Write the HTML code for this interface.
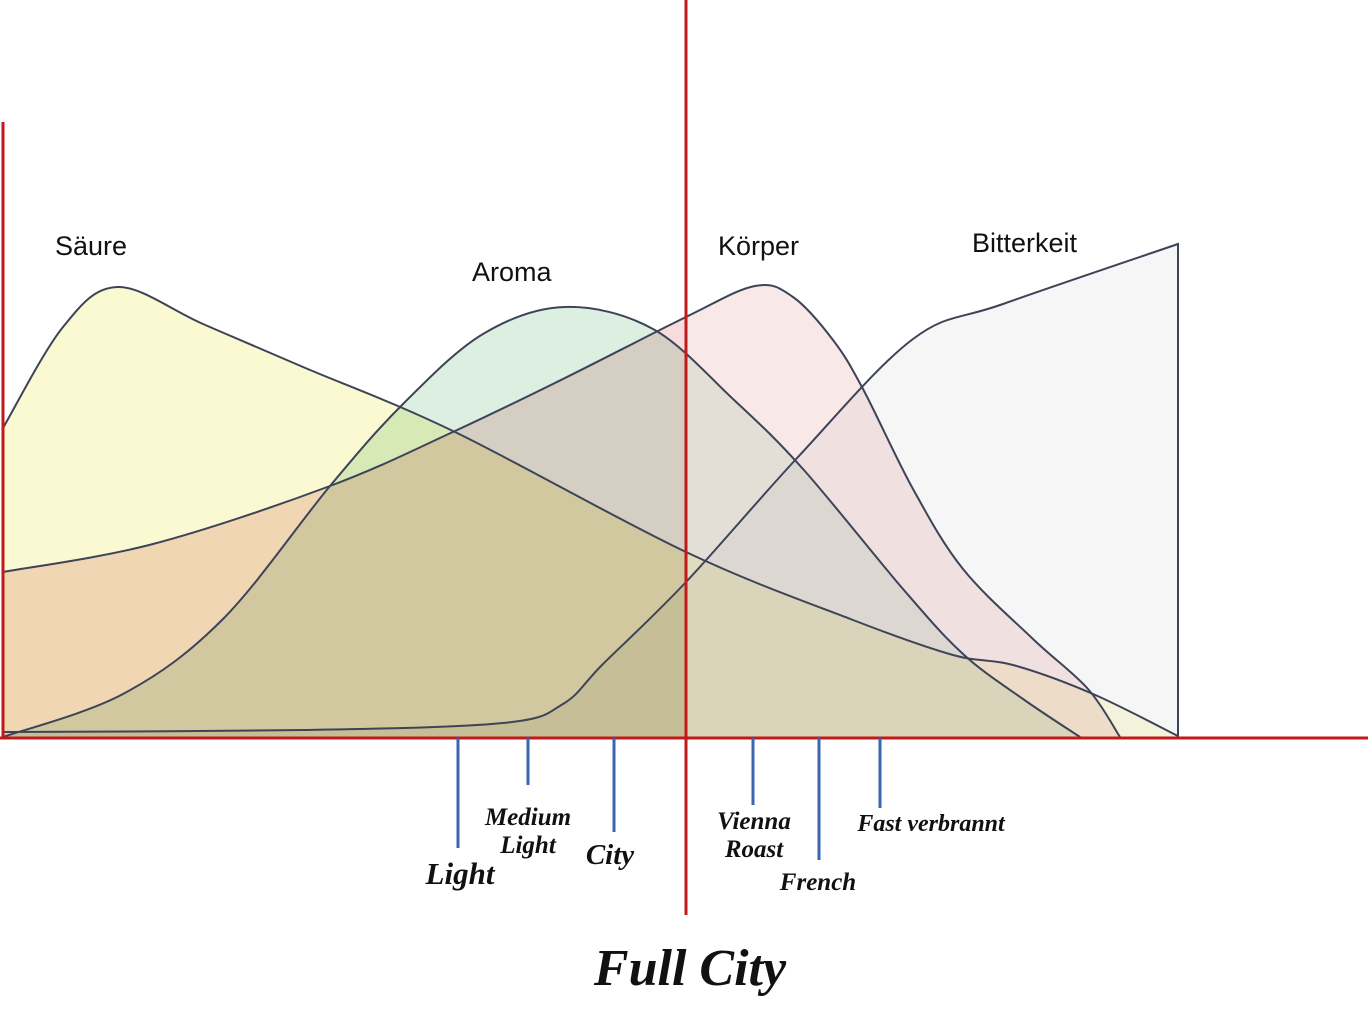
<!DOCTYPE html>
<html><head><meta charset="utf-8"><style>
html,body{margin:0;padding:0;background:#fff;width:1368px;height:1027px;overflow:hidden}
svg{display:block}
.lbl{font-family:"Liberation Sans",sans-serif;font-size:27px;fill:#111}
.scr{font-family:"Liberation Serif",serif;font-style:italic;font-weight:bold;fill:#111;text-anchor:middle}
.crv{mix-blend-mode:multiply;fill-opacity:0.78}
</style></head><body>
<svg id="chart" width="1368" height="1027" viewBox="0 0 1368 1027" xmlns="http://www.w3.org/2000/svg">
<g id="curves"></g>
<rect x="687" y="0" width="681" height="737" fill="#fff" opacity="0.35"/>
<g id="outlines"></g>
<line x1="3" y1="122" x2="3" y2="739" stroke="#c01a1a" stroke-width="3"/>
<line x1="0" y1="738" x2="1368" y2="738" stroke="#c01a1a" stroke-width="3"/>
<line x1="686" y1="0" x2="686" y2="915" stroke="#c01a1a" stroke-width="3"/>
<g id="ticks"></g>
<text class="lbl" x="55" y="255">Säure</text>
<text class="lbl" x="472" y="281">Aroma</text>
<text class="lbl" x="718" y="255">Körper</text>
<text class="lbl" x="972" y="252">Bitterkeit</text>
<text class="scr" x="460" y="884" font-size="31">Light</text>
<text class="scr" x="528" y="825" font-size="25">Medium</text>
<text class="scr" x="528" y="853" font-size="25">Light</text>
<text class="scr" x="610" y="864" font-size="29">City</text>
<text class="scr" x="754" y="829" font-size="25">Vienna</text>
<text class="scr" x="754" y="857" font-size="25">Roast</text>
<text class="scr" x="818" y="890" font-size="25">French</text>
<text class="scr" x="931" y="831" font-size="24">Fast verbrannt</text>
<text class="scr" x="690" y="985" font-size="52">Full City</text>
</svg>
<script>
// x: roast degree in px-units from origin, y: intensity (0-100)
const saeureX = [0, 60, 115, 200, 300, 452, 683, 850, 950, 1010, 1090, 1175];
const saeureY = [61.8, 82, 90, 82.6, 74, 61, 37, 23.4, 16.4, 14.4, 8.6, 0.2];
const koerperX = [0, 150, 327, 452, 560, 683, 752, 790, 830, 860, 910, 960, 1030, 1085, 1117];
const koerperY = [33, 38.6, 50.2, 61.2, 71.6, 84, 90.2, 88, 79.4, 69.6, 49.6, 33.6, 19.6, 9.6, 0];
const aromaX = [0, 120, 220, 327, 400, 480, 562, 650, 730, 800, 900, 960, 1020, 1077];
const aromaY = [0, 8.6, 23.6, 50.2, 66.6, 80.6, 86, 81.6, 67.6, 53.6, 29.6, 16.6, 7.6, 0];
const bitterX = [0, 300, 500, 560, 600, 683, 795, 910, 1000, 1175];
const bitterY = [1, 1.4, 2.8, 6.6, 14.6, 31, 56, 79.6, 86.6, 98.6];
const tickX = [455, 525, 611, 750, 816, 877];
const tickLen = [110, 47, 94, 67, 122, 70];

const X0 = 3, Y0 = 737, YS = 5;
const xs = v => X0 + v;
const ys = v => Y0 - v * YS;
const NS = "http://www.w3.org/2000/svg";

function smooth(px, py) {
  const p = px.map((x, i) => [xs(x), ys(py[i])]);
  let d = "M" + p[0][0] + "," + p[0][1];
  for (let i = 0; i < p.length - 1; i++) {
    const a = p[i - 1] || p[i], b = p[i], c = p[i + 1], e = p[i + 2] || c;
    const c1 = [b[0] + (c[0] - a[0]) / 6, b[1] + (c[1] - a[1]) / 6];
    const c2 = [c[0] - (e[0] - b[0]) / 6, c[1] - (e[1] - b[1]) / 6];
    d += " C" + c1.join(",") + " " + c2.join(",") + " " + c.join(",");
  }
  return d;
}
const series = [
  ["saeure", saeureX, saeureY, "#f9f7c4"],
  ["koerper", koerperX, koerperY, "#f3d2d2"],
  ["aroma", aromaX, aromaY, "#d4ead8"],
  ["bitterkeit", bitterX, bitterY, "#eeeeee"]
];
const cg = document.getElementById("curves"), og = document.getElementById("outlines");
series.forEach(s => {
  const line = smooth(s[1], s[2]);
  const lastX = xs(s[1][s[1].length - 1]);
  const area = line + " L" + lastX + "," + Y0 + " L" + xs(s[1][0]) + "," + Y0 + " Z";
  const f = document.createElementNS(NS, "path");
  f.setAttribute("d", area);
  f.setAttribute("fill", s[3]);
  f.setAttribute("class", "crv");
  f.setAttribute("stroke", "none");
  
  
  cg.appendChild(f);
  const o = document.createElementNS(NS, "path");
  o.setAttribute("d", s[0] === "bitterkeit" ? line + " L" + lastX + "," + Y0 : line);
  o.setAttribute("fill", "none");
  o.setAttribute("stroke", "#3d4458");
  o.setAttribute("stroke-width", "2");
  
  
  og.appendChild(o);
});
const tg = document.getElementById("ticks");
tickX.forEach((t, i) => {
  const l = document.createElementNS(NS, "line");
  l.setAttribute("x1", xs(t)); l.setAttribute("x2", xs(t));
  l.setAttribute("y1", 738); l.setAttribute("y2", 738 + tickLen[i]);
  l.setAttribute("stroke", "#3a66b0"); l.setAttribute("stroke-width", "3");
  
  
  tg.appendChild(l);
});
</script>
</body></html>
